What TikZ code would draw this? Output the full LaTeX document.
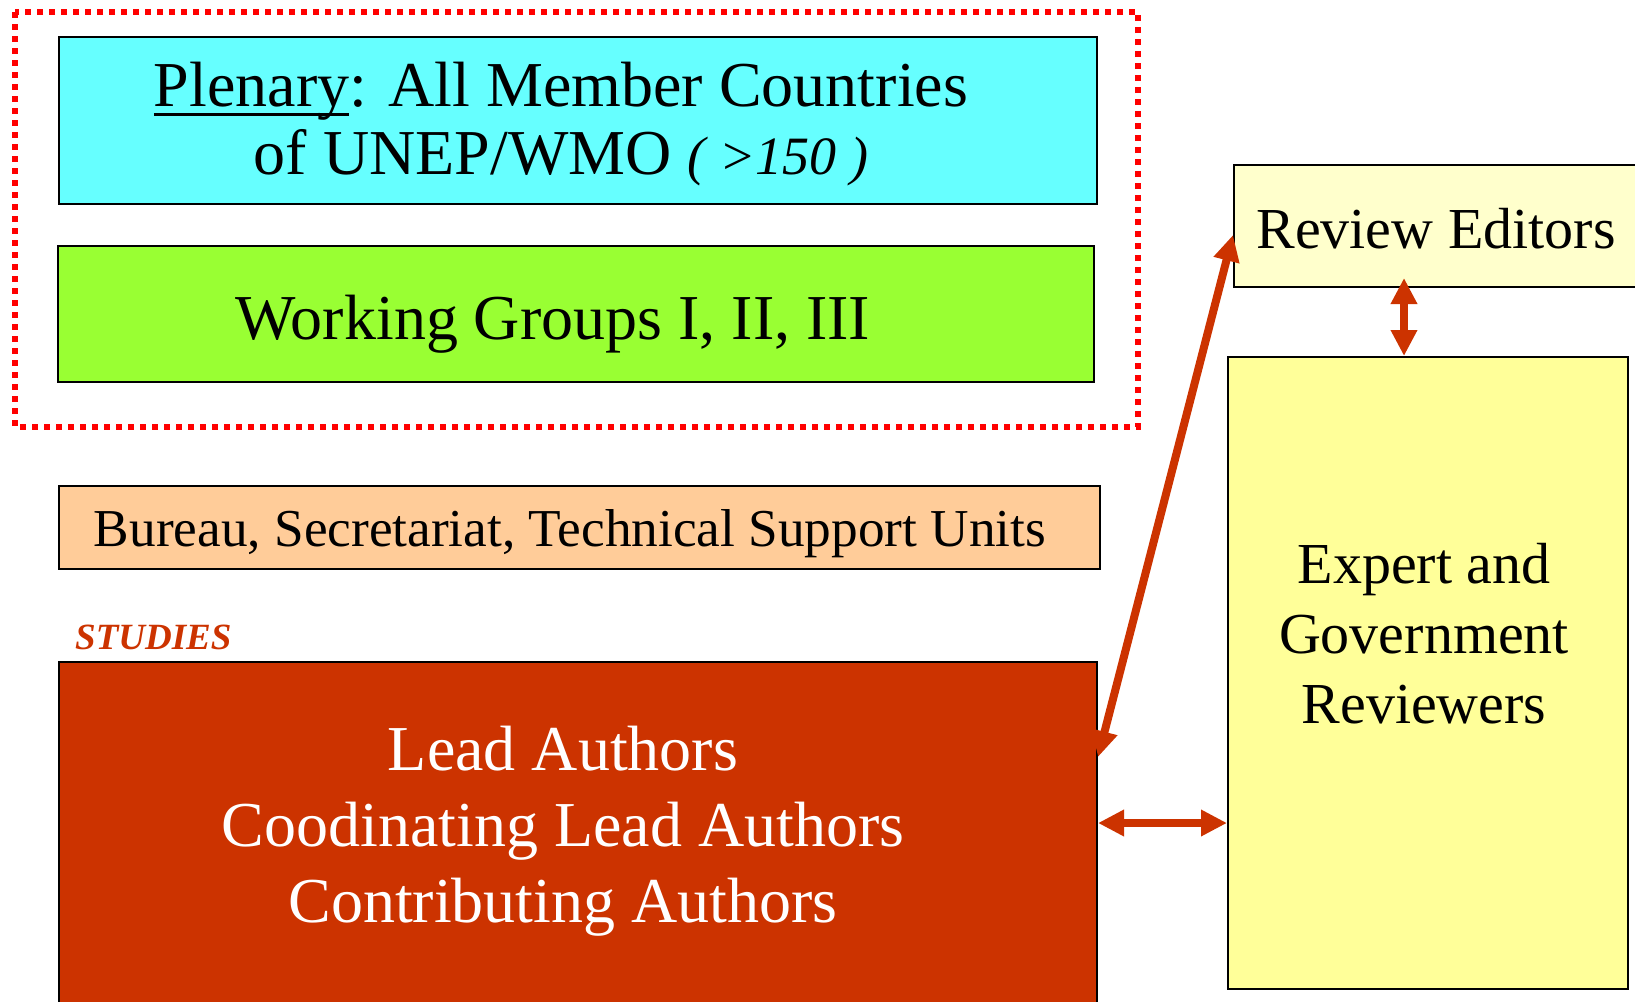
\documentclass[tikz,border=0pt]{standalone}
\usepackage{fontspec}
\setmainfont{Liberation Serif}
\usepackage{xcolor}
\usetikzlibrary{arrows.meta,positioning}
\definecolor{plenarycyan}{HTML}{66FFFF}
\definecolor{wggreen}{HTML}{99FF33}
\definecolor{bureauorange}{HTML}{FFCC99}
\definecolor{leadred}{HTML}{CC3300}
\definecolor{reviewpale}{HTML}{FFFFCC}
\definecolor{expertyellow}{HTML}{FFFF99}
\newcommand{\ulword}[1]{\setbox0=\hbox{#1}\rlap{\rule[-10pt]{\wd0}{3pt}}\box0}

\begin{document}
\begin{tikzpicture}[x=1pt, y=-1pt,
                    box/.style={draw=black, line width=2pt, inner sep=0pt},
                    frame/.style={draw=red, line width=6pt, dash pattern=on 6pt off 6pt},
                    link/.style={draw=leadred, line width=8pt,
                                 {Triangle[length=26pt,width=25pt]}-{Triangle[length=26pt,width=25pt]}},
                    bigtext/.style={font=\fontsize{64}{68}\selectfont, inner sep=0pt, align=center},
                    sidetext/.style={font=\fontsize{58}{70}\selectfont, inner sep=0pt, align=center},
                   ]

\path[use as bounding box, clip] (0,0) rectangle (1635,1001);

% plenary and working groups
\draw[frame] (15,12) rectangle (1138,427);

\node[box, fill=plenarycyan, minimum width=1038pt, minimum height=167pt] (plenary) at (578,120.5) {};
\node[bigtext] (plenarytext) at (561,124)
     {\ulword{Plenary}: All Member Countries\\of UNEP/WMO {\fontsize{54}{54}\selectfont\itshape ( >150 )}};

\node[box, fill=wggreen, minimum width=1036pt, minimum height=136pt] (wg) at (575.5,314) {};
\node[bigtext, anchor=base] (wgtext) at (553,339) {Working Groups I, II, III};

\node[box, fill=bureauorange, minimum width=1041pt, minimum height=83pt] (bureau) at (579.5,527.5) {};
\node[font=\fontsize{53.3}{60}\selectfont, inner sep=0pt, anchor=base] (bureautext) at (570,546)
     {Bureau, Secretariat, Technical Support Units};

% authors
\node[font=\fontsize{37}{40}\selectfont\bfseries\itshape, text=leadred, inner sep=0pt, anchor=base west] (studies) at (75,649) {STUDIES};

\node[box, fill=leadred, minimum width=1038pt, minimum height=348pt] (lead) at (578,836) {};
\node[font=\fontsize{64}{76}\selectfont, text=white, inner sep=0pt, align=center] (leadtext) at (563,831)
     {Lead Authors\\Coodinating Lead Authors\\Contributing Authors};

% reviewers
\node[box, fill=reviewpale, minimum width=426pt, minimum height=122pt] (review) at (1447,226) {};
\node[sidetext, anchor=base] (reviewtext) at (1436,248) {Review Editors};

\node[box, fill=expertyellow, minimum width=400pt, minimum height=632pt] (expert) at (1428,673) {};
\node[sidetext] (experttext) at (1424,634) {Expert and\\Government\\Reviewers};

\draw[link] ([yshift=79pt]lead.east) -- ([yshift=-9pt]review.west);

\coordinate (reviewlink) at ([xshift=-24pt]expert.north);
\draw[link, shorten >=-10pt] (reviewlink) -- (reviewlink |- review.south);

\coordinate (leadlink) at ([yshift=13pt]lead.east);
\draw[link] (leadlink) -- (leadlink -| expert.west);

\end{tikzpicture}
\end{document}
